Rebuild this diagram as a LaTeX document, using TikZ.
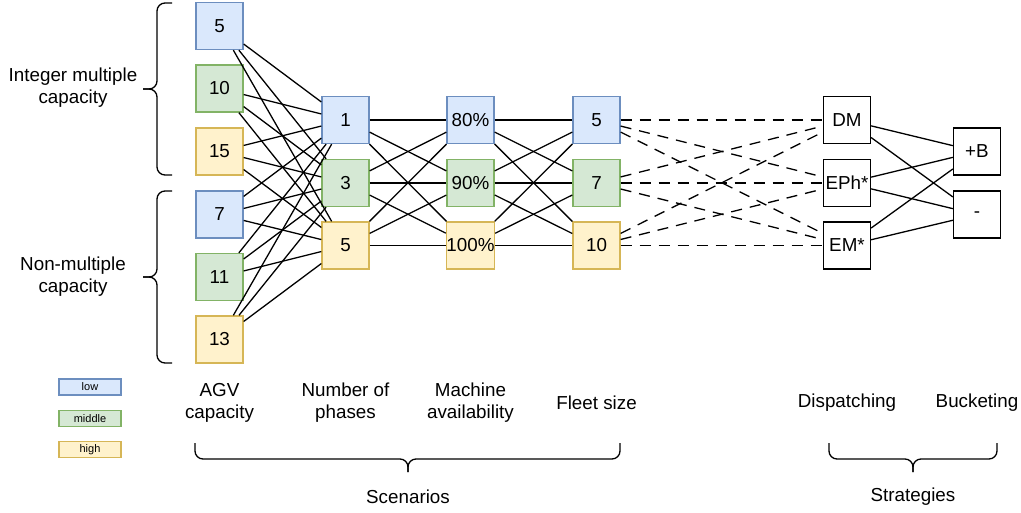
\documentclass[tikz,border=0pt]{standalone}
\usepackage{fontspec}
\setmainfont{Liberation Sans}
\definecolor{bld}{HTML}{6C8EBF}\definecolor{blf}{HTML}{DAE8FC}
\definecolor{grd}{HTML}{82B366}\definecolor{grf}{HTML}{D5E8D4}
\definecolor{yed}{HTML}{D6B656}\definecolor{yef}{HTML}{FFF2CC}
\begin{document}
\begin{tikzpicture}[x=1pt,y=-1pt,
  font=\fontsize{18.8}{22}\selectfont,
  box/.style={draw, line width=1.3pt, minimum width=47pt, minimum height=47pt, inner sep=0pt},
  lowc/.style={box, draw=bld, fill=blf},
  midc/.style={box, draw=grd, fill=grf},
  highc/.style={box, draw=yed, fill=yef},
  plain/.style={box, draw=black, fill=white},
  leg/.style={draw, line width=1.3pt, minimum width=62pt, minimum height=16pt, inner sep=0pt, font=\fontsize{11}{13}\selectfont},
  edge/.style={line width=1.3pt},
  dedge/.style={line width=1.3pt, dash pattern=on 11pt off 8pt},
  brace/.style={line width=1.3pt, rounded corners=8pt},
  lbl/.style={align=center, inner sep=0pt}]
\useasboundingbox (0,0) rectangle (1021,512);
% column 1
\node[lowc]  (a1) at (219.5,26)   {5};
\node[midc]  (a2) at (219.5,88.5) {10};
\node[highc] (a3) at (219.5,151.5){15};
\node[lowc]  (a4) at (219.5,214.5){7};
\node[midc]  (a5) at (219.5,277)  {11};
\node[highc] (a6) at (219.5,339.5){13};
% column 2
\node[lowc]  (b1) at (345.5,120)  {1};
\node[midc]  (b2) at (345.5,183)  {3};
\node[highc] (b3) at (345.5,245.5){5};
% column 3
\node[lowc]  (c1) at (470.5,120)  {80\%};
\node[midc]  (c2) at (470.5,183)  {90\%};
\node[highc] (c3) at (470.5,245.5){100\%};
% column 4
\node[lowc]  (d1) at (596.5,120)  {5};
\node[midc]  (d2) at (596.5,183)  {7};
\node[highc] (d3) at (596.5,245.5){10};
% column 5
\node[plain] (e1) at (847,120)    {DM};
\node[plain] (e2) at (847,183)    {EPh*};
\node[plain] (e3) at (847,245.5)  {EM*};
% column 6
\node[plain] (f1) at (977,151.5)  {+B};
\node[plain] (f2) at (977,214.5)  {-};
% edges
\foreach \i in {1,...,6}{\foreach \j in {1,2,3}{\draw[edge] (a\i) -- (b\j);}}
\foreach \i in {1,2,3}{\foreach \j in {1,2,3}{
  \draw[edge] (b\i) -- (c\j);
  \draw[edge] (c\i) -- (d\j);
  \draw[dedge] (d\i) -- (e\j);}}
\foreach \i in {1,2,3}{\foreach \j in {1,2}{\draw[edge] (e\i) -- (f\j);}}
% left braces
\coordinate (t1) at (143,89);
\coordinate (t2) at (143,277);
\draw[brace] (172,3) -- (157,3) -- (157,89) -- (t1);
\draw[brace] (172,175) -- (157,175) -- (157,89) -- (t1);
\draw[brace] (172,191) -- (157,191) -- (157,277) -- (t2);
\draw[brace] (172,363) -- (157,363) -- (157,277) -- (t2);
\node[lbl] (l1) at (73,88) {Integer multiple\\capacity};
\node[lbl] (l2) at (73,277) {Non-multiple\\capacity};
% legend
\node[leg, draw=bld, fill=blf] (g1) at (90,387) {low};
\node[leg, draw=grd, fill=grf] (g2) at (90,418.5) {middle};
\node[leg, draw=yed, fill=yef] (g3) at (90,449.5) {high};
% column labels
\node[lbl] (h1) at (219.5,403) {AGV\\capacity};
\node[lbl] (h2) at (345.5,403) {Number of\\phases};
\node[lbl] (h3) at (470.5,403) {Machine\\availability};
\node[lbl] (h4) at (596.5,403) {Fleet size};
\node[lbl] (h5) at (847,403) {Dispatching};
\node[lbl] (h6) at (977,403) {Bucketing};
% bottom braces
\coordinate (s1) at (408,472);
\coordinate (s2) at (913,472);
\draw[brace] (195,443) -- (195,459) -- (408,459) -- (s1);
\draw[brace] (620,443) -- (620,459) -- (408,459) -- (s1);
\draw[brace] (829,443) -- (829,459) -- (913,459) -- (s2);
\draw[brace] (997,443) -- (997,459) -- (913,459) -- (s2);
\node[lbl] (k1) at (408,497) {Scenarios};
\node[lbl] (k2) at (913,497) {Strategies};
\end{tikzpicture}
\end{document}
